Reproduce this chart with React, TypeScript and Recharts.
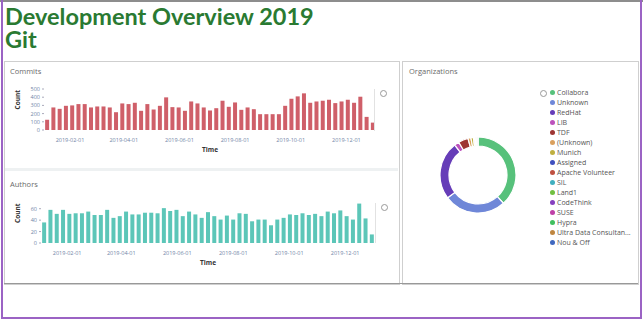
import { Bar, BarChart, Cell, Pie, PieChart, XAxis, YAxis } from "recharts";

// weekly buckets of 2019 (first bucket starts on this day)
const weekStart = "2018-12-31";

const commits = [
  125, 275, 258, 295, 300, 316, 316, 275, 287, 287, 275, 217, 324, 316, 332, 234, 316, 250,
  295, 398, 279, 275, 234, 348, 324, 275, 238, 266, 357, 283, 336, 246, 275, 254, 193, 193,
  193, 193, 295, 381, 410, 447, 332, 348, 357, 369, 328, 348, 369, 332, 406, 160, 90,
];

const authors = [
  36, 58, 51, 58, 51, 52, 52, 55, 49, 49, 58, 44, 47, 55, 50, 50, 53, 53, 52, 61, 56, 58, 47,
  55, 50, 44, 54, 47, 41, 48, 41, 52, 51, 38, 41, 41, 31, 41, 44, 50, 49, 52, 49, 51, 47, 55,
  52, 57, 47, 41, 69, 43, 15,
];

const monthTicks = ["2019-02-01", "2019-04-01", "2019-06-01", "2019-08-01", "2019-10-01", "2019-12-01"];
const commitTicks = [0, 100, 200, 300, 400, 500];
const authorTicks = [0, 20, 40, 60];

const orgNames = [
  "Collabora", "Unknown", "RedHat", "LIB", "TDF", "(Unknown)", "Munich", "Assigned",
  "Apache Volunteer", "SIL", "Land1", "CodeThink", "SUSE", "Hypra", "Ultra Data Consultan...", "Nou & Off",
];
const orgCommits = [1380, 950, 890, 75, 150, 45, 38, 15, 12, 10, 8, 7, 6, 5, 4, 3];
const orgColors = [
  "#57c17b", "#6f87d8", "#663db8", "#bc52bc", "#9e3533", "#daa05d", "#bfaf40", "#4050bf",
  "#bf5040", "#40afbf", "#70bf40", "#8640bf", "#bf40a7", "#40bf5f", "#bf8640", "#4068bf",
];

const DAY = 86400000;
const weekPos = (d: string) => (Date.parse(d) - Date.parse(weekStart)) / DAY / 7 - 0.5;
const tickPositions = monthTicks.map(weekPos);
const labelFor = (v: number) => monthTicks[tickPositions.findIndex((p) => Math.abs(p - v) < 1e-6)] ?? "";

const commitData = commits.map((v, i) => ({ i, v }));
const authorData = authors.map((v, i) => ({ i, v }));
const orgData = orgNames.map((name, k) => ({ name, value: orgCommits[k] }));

const font = "'Open Sans', sans-serif";
const tickStyle = { fill: "#7084a6", fontSize: 5.5, fontFamily: font };

function WeeklyBars({
  data,
  color,
  ticks,
  max,
  width,
  height,
  margin,
  yWidth,
}: {
  data: { i: number; v: number }[];
  color: string;
  ticks: number[];
  max: number;
  width: number;
  height: number;
  margin: { top: number; right: number; bottom: number; left: number };
  yWidth: number;
}) {
  return (
    <BarChart width={width} height={height} data={data} margin={margin} barCategoryGap="18%">
      <XAxis
        xAxisId="t"
        type="number"
        domain={[-0.5, data.length - 0.5]}
        allowDataOverflow
        ticks={tickPositions}
        tickFormatter={labelFor}
        tick={tickStyle}
        tickLine={false}
        axisLine={false}
        height={22}
        label={{ value: "Time", position: "insideBottom", offset: 0, fill: "#333", fontSize: 6.5, fontWeight: 700, fontFamily: font }}
      />
      <XAxis dataKey="i" hide height={0} />
      <YAxis
        domain={[0, max]}
        ticks={ticks}
        width={yWidth}
        tick={tickStyle}
        tickSize={2}
        tickLine={{ stroke: "#aab" }}
        axisLine={false}
        interval={0}
        label={{ value: "Count", angle: -90, position: "insideLeft", offset: 14, fill: "#333", fontSize: 6.5, fontWeight: 700, fontFamily: font }}
      />
      <Bar dataKey="v" fill={color} isAnimationActive={false} />
    </BarChart>
  );
}

function LegendToggle({ x, y, h }: { x: number; y: number; h: number }) {
  return (
    <>
      <div style={{ position: "absolute", left: x, top: y, width: 1, height: h, background: "#e2e2e2" }} />
      <div
        style={{
          position: "absolute", left: x + 6, top: y + 1, width: 5, height: 5,
          borderRadius: "50%", border: "1.5px solid #999",
        }}
      />
    </>
  );
}

export default function App() {
  const panel = { position: "absolute" as const, border: "1px solid #cfcfcf", background: "#fff" };
  const title = { position: "absolute" as const, fontFamily: font, fontSize: 7.5, color: "#6b6b6b" };
  const heading = {
    position: "absolute" as const, left: 5, fontFamily: "Lato, sans-serif", fontWeight: 700,
    fontSize: 23.5, lineHeight: "20px", color: "#2a7a32", whiteSpace: "nowrap" as const,
  };
  return (
    <div
      style={{
        position: "absolute", left: 0, top: 0, width: 643, height: 321, overflow: "hidden",
        background: "#fff", fontFamily: font,
      }}
    >
      <div style={{ position: "absolute", left: 0, top: 0, width: 643, height: 2, background: "#8d8d8d" }} />
      <div style={{ position: "absolute", left: 1, top: 0, width: 2, height: 319, background: "#9b63c4" }} />
      <div style={{ position: "absolute", left: 640, top: 0, width: 2, height: 319, background: "#9b63c4" }} />
      <div style={{ position: "absolute", left: 1, top: 317, width: 641, height: 2, background: "#9b63c4" }} />

      <div style={{ ...heading, top: 6 }}>Development Overview 2019</div>
      <div style={{ ...heading, top: 29 }}>Git</div>

      <div style={{ ...panel, left: 4, top: 61, width: 394, height: 222 }} />
      <div style={{ position: "absolute", left: 5, top: 168, width: 393, height: 3, background: "#eef1f2" }} />
      <div style={{ ...panel, left: 402, top: 61, width: 235, height: 222 }} />
      <div style={{ position: "absolute", left: 4, top: 283, width: 634, height: 1, background: "#999" }} />

      <div style={{ ...title, left: 10, top: 66 }}>Commits</div>
      <div style={{ ...title, left: 10, top: 179 }}>Authors</div>
      <div style={{ ...title, left: 409, top: 66 }}>Organizations</div>

      <div style={{ position: "absolute", left: 4, top: 80 }}>
        <WeeklyBars
          data={commitData}
          color="#cf5f69"
          ticks={commitTicks}
          max={500}
          width={395}
          height={74}
          margin={{ top: 9, right: 23, bottom: 2, left: 0 }}
          yWidth={40}
        />
      </div>
      <LegendToggle x={374} y={89} h={42} />

      <div style={{ position: "absolute", left: 4, top: 195 }}>
        <WeeklyBars
          data={authorData}
          color="#5cc6b8"
          ticks={authorTicks}
          max={70}
          width={395}
          height={72}
          margin={{ top: 8, right: 24, bottom: 2, left: 0 }}
          yWidth={37}
        />
      </div>
      <LegendToggle x={375} y={203} h={40} />

      <div style={{ position: "absolute", left: 438, top: 135 }}>
        <PieChart width={80} height={80} margin={{ top: 0, right: 0, bottom: 0, left: 0 }}>
          <Pie
            data={orgData}
            dataKey="value"
            nameKey="name"
            cx={40}
            cy={40}
            innerRadius={29}
            outerRadius={38}
            startAngle={90}
            endAngle={-270}
            stroke="#fff"
            strokeWidth={1.2}
            isAnimationActive={false}
          >
            {orgData.map((d, k) => (
              <Cell key={d.name} fill={orgColors[k]} />
            ))}
          </Pie>
        </PieChart>
      </div>

      <div
        style={{
          position: "absolute", left: 540, top: 90, width: 5, height: 5, borderRadius: "50%",
          border: "1.2px solid #999",
        }}
      />
      <div style={{ position: "absolute", left: 550, top: 88 }}>
        {orgNames.map((n, k) => (
          <div
            key={n}
            style={{
              display: "flex", alignItems: "center", height: 9.95, fontSize: 7, color: "#555",
              fontFamily: font, whiteSpace: "nowrap",
            }}
          >
            <span
              style={{
                display: "inline-block", width: 5, height: 5, borderRadius: "50%",
                background: orgColors[k], marginRight: 2,
              }}
            />
            {n}
          </div>
        ))}
      </div>
    </div>
  );
}
